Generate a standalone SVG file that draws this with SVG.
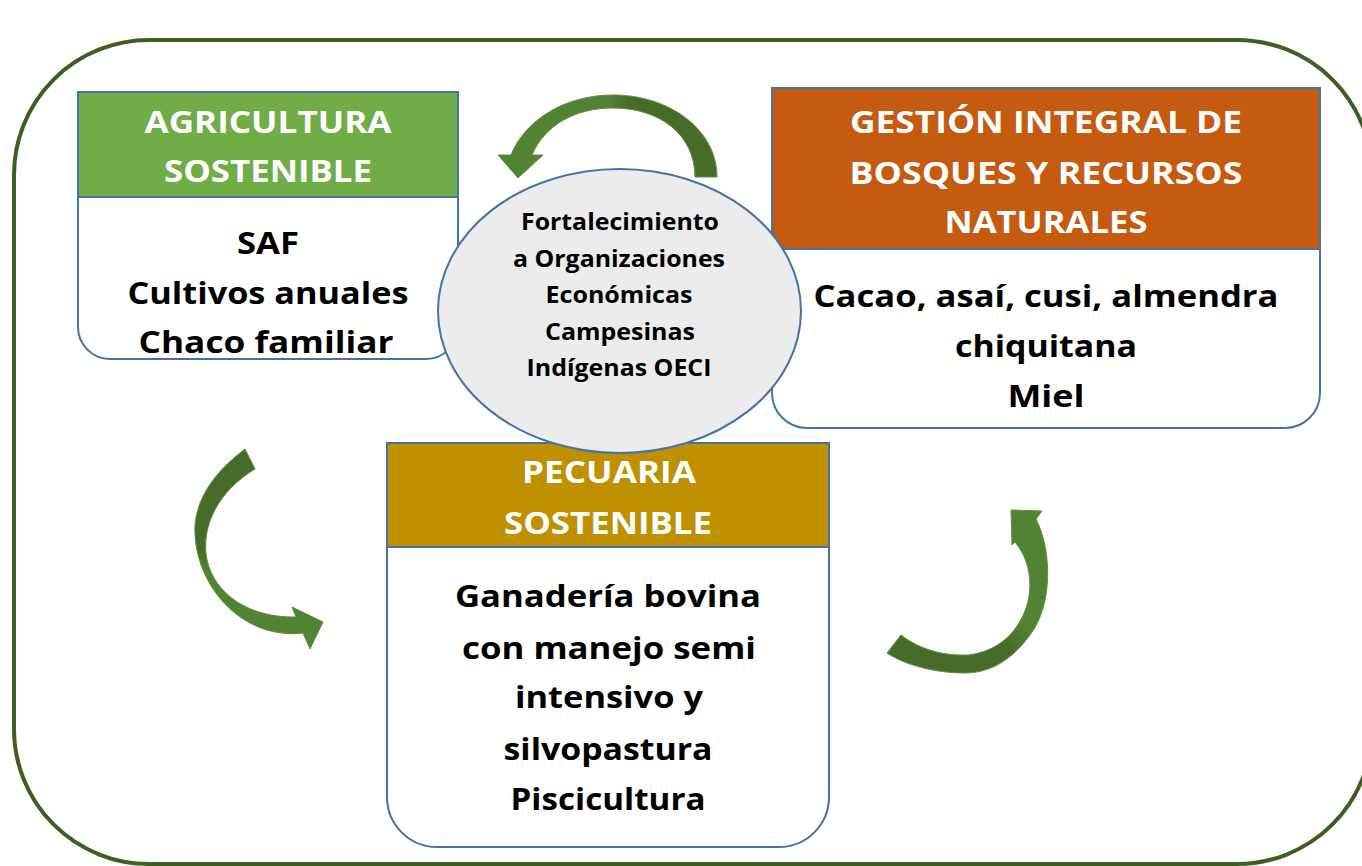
<svg xmlns="http://www.w3.org/2000/svg" width="1362" height="866" viewBox="0 0 1362 866">
<style>
.box{fill:none;stroke:#4572a7;stroke-width:2}
.hd{font-family:"Open Sans","Liberation Sans",sans-serif;font-weight:bold;font-size:30px;fill:#ffffff;text-anchor:middle}
.bd{font-family:"Open Sans","Liberation Sans",sans-serif;font-weight:bold;font-size:30px;fill:#000000;text-anchor:middle}
.el{font-family:"Open Sans","Liberation Sans",sans-serif;font-weight:bold;font-size:24px;fill:#000000;text-anchor:middle}
.arr{stroke:#5e8f3f;stroke-width:1}
</style>
<defs>
<linearGradient id="g1" x1="0" y1="0" x2="1" y2="0">
<stop offset="0" stop-color="#548235"/><stop offset="0.5" stop-color="#548235"/><stop offset="0.6" stop-color="#476b29"/><stop offset="1" stop-color="#476b29"/>
</linearGradient>
<linearGradient id="g2" x1="0" y1="0" x2="0" y2="1">
<stop offset="0" stop-color="#476b29"/><stop offset="0.5" stop-color="#476b29"/><stop offset="0.62" stop-color="#548235"/><stop offset="1" stop-color="#548235"/>
</linearGradient>
<linearGradient id="g3" x1="0" y1="1" x2="1" y2="0">
<stop offset="0" stop-color="#476b29"/><stop offset="0.45" stop-color="#476b29"/><stop offset="0.58" stop-color="#548235"/><stop offset="1" stop-color="#548235"/>
</linearGradient>
</defs>
<rect width="1362" height="866" fill="#ffffff"/>
<rect id="frame" x="14" y="40" width="1358" height="824" rx="135" ry="135" fill="none" stroke="#3d5f22" stroke-width="4"/>

<g id="agricultura">
<rect x="78" y="92" width="380" height="105" fill="#70ad47"/>
<path class="box" d="M78,92 H458 V327 A32,32 0 0 1 426,359 H110 A32,32 0 0 1 78,327 Z"/>
<line class="box" x1="78" y1="197" x2="458" y2="197"/>
<text class="hd" x="268" y="133" textLength="247" lengthAdjust="spacingAndGlyphs">AGRICULTURA</text>
<text class="hd" x="268" y="182" textLength="208" lengthAdjust="spacingAndGlyphs">SOSTENIBLE</text>
<text class="bd" x="268" y="254" textLength="62" lengthAdjust="spacingAndGlyphs">SAF</text>
<text class="bd" x="268" y="304" textLength="281" lengthAdjust="spacingAndGlyphs">Cultivos anuales</text>
<text class="bd" x="266" y="353" textLength="255" lengthAdjust="spacingAndGlyphs">Chaco familiar</text>
</g>

<g id="gestion">
<rect x="772" y="88" width="548" height="161" fill="#c55a11"/>
<path class="box" d="M772,88 H1320 V393 A35,35 0 0 1 1285,428 H807 A35,35 0 0 1 772,393 Z"/>
<line class="box" x1="772" y1="249" x2="1320" y2="249"/>
<text class="hd" x="1046" y="133" textLength="392" lengthAdjust="spacingAndGlyphs">GESTIÓN INTEGRAL DE</text>
<text class="hd" x="1046" y="184" textLength="393" lengthAdjust="spacingAndGlyphs">BOSQUES Y RECURSOS</text>
<text class="hd" x="1046" y="233" textLength="203" lengthAdjust="spacingAndGlyphs">NATURALES</text>
<text class="bd" x="1046" y="307" textLength="465" lengthAdjust="spacingAndGlyphs">Cacao, asaí, cusi, almendra</text>
<text class="bd" x="1046" y="357" textLength="182" lengthAdjust="spacingAndGlyphs">chiquitana</text>
<text class="bd" x="1046" y="407" textLength="77" lengthAdjust="spacingAndGlyphs">Miel</text>
</g>

<g id="pecuaria">
<rect x="387" y="443" width="442" height="104" fill="#bf9000"/>
<path class="box" d="M387,443 H829 V797 A50,50 0 0 1 779,847 H437 A50,50 0 0 1 387,797 Z"/>
<line class="box" x1="387" y1="547" x2="829" y2="547"/>
<text class="hd" x="609" y="483" textLength="174" lengthAdjust="spacingAndGlyphs">PECUARIA</text>
<text class="hd" x="608" y="534" textLength="208" lengthAdjust="spacingAndGlyphs">SOSTENIBLE</text>
<text class="bd" x="608" y="607" textLength="306" lengthAdjust="spacingAndGlyphs">Ganadería bovina</text>
<text class="bd" x="609" y="659" textLength="294" lengthAdjust="spacingAndGlyphs">con manejo semi</text>
<text class="bd" x="609" y="708" textLength="188" lengthAdjust="spacingAndGlyphs">intensivo y</text>
<text class="bd" x="608" y="760" textLength="209" lengthAdjust="spacingAndGlyphs">silvopastura</text>
<text class="bd" x="608" y="810" textLength="195" lengthAdjust="spacingAndGlyphs">Piscicultura</text>
</g>

<g id="connectors">
<path class="arr" fill="url(#g1)" d="M717,177 C717,130 670,95 613,95 C565,95 525,120 511,155 L498,155 L518,178 L543,155 L532,155 C545,125 575,108 613,108 C660,108 695,135 695,177 Z"/>
<path class="arr" fill="url(#g2)" d="M245,449 C210,475 193,505 195,535 C198,590 245,640 303,633 L310,649 L323,622 L292,607 L296,617 C250,618 215,595 207,560 C200,525 220,490 255,469 Z"/>
<path class="arr" fill="url(#g3)" d="M1011,510 L1042,511 L1036,519 C1052,550 1053,605 1030,635 C1012,660 990,673 965,673 C935,673 905,665 887,653 L901,635 C920,650 945,656 968,655 C995,652 1018,635 1027,605 C1033,585 1030,560 1015,542 L1012,545 Z"/>
</g>

<g id="oeci">
<ellipse cx="619.5" cy="311" rx="181.5" ry="142" fill="#ececec" stroke="#4572a7" stroke-width="2"/>
<text class="el" x="620" y="230" textLength="198" lengthAdjust="spacingAndGlyphs">Fortalecimiento</text>
<text class="el" x="619" y="267" textLength="212" lengthAdjust="spacingAndGlyphs">a Organizaciones</text>
<text class="el" x="619" y="303" textLength="147" lengthAdjust="spacingAndGlyphs">Económicas</text>
<text class="el" x="620" y="340" textLength="150" lengthAdjust="spacingAndGlyphs">Campesinas</text>
<text class="el" x="619" y="376" textLength="185" lengthAdjust="spacingAndGlyphs">Indígenas OECI</text>
</g>
</svg>
